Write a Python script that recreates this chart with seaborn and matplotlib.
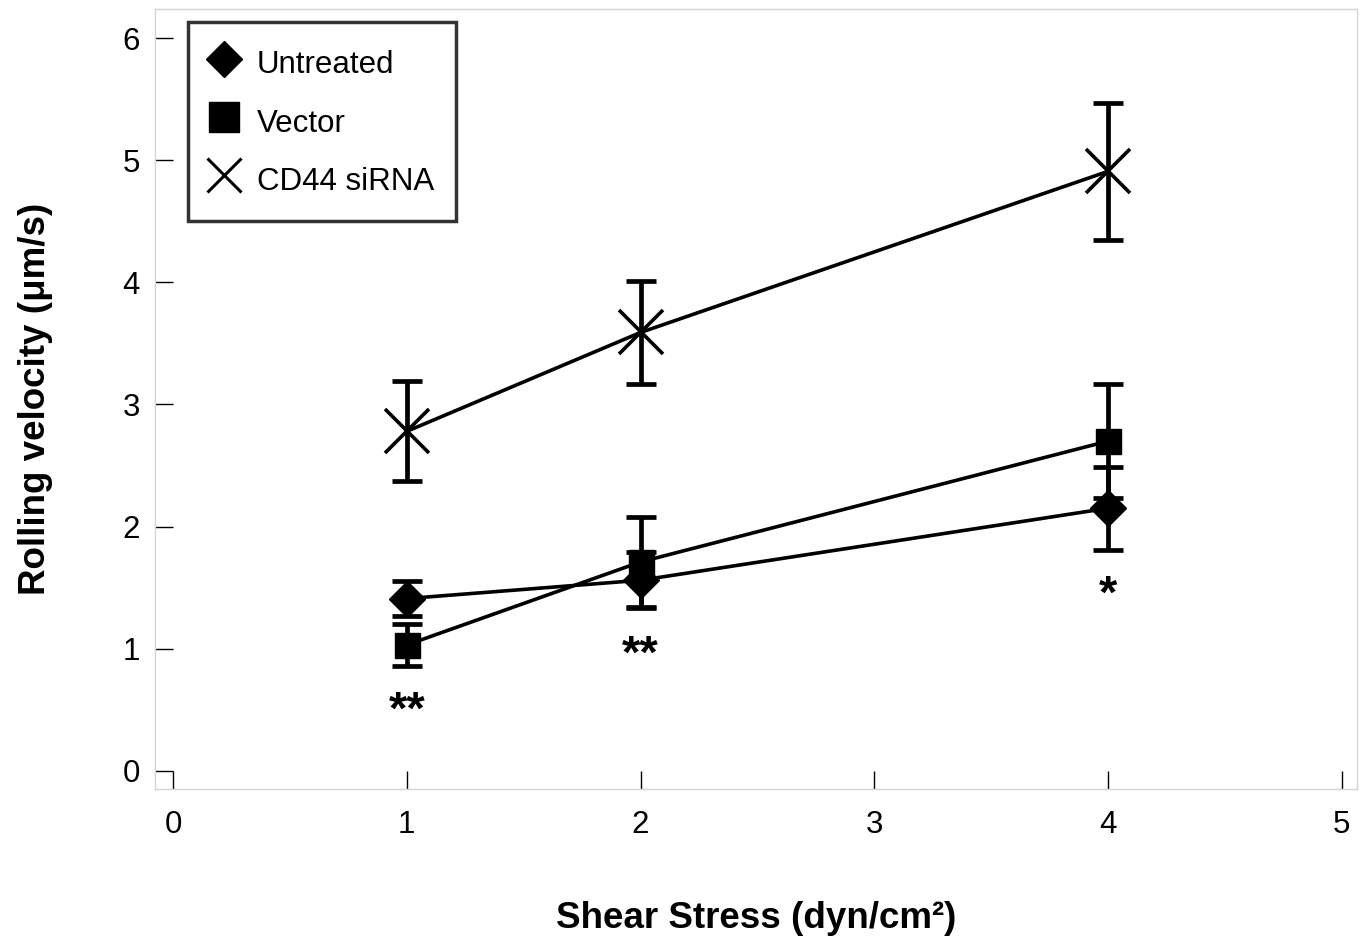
import numpy as np
import pandas as pd
import seaborn as sns
import matplotlib.pyplot as plt
from matplotlib.lines import Line2D

# shear stress (dyn/cm2)
shear = [1, 2, 4]

# rolling velocity (um/s) and error bars
untreated = [1.41, 1.56, 2.15]
untreated_err = [0.14, 0.23, 0.34]
vector = [1.03, 1.71, 2.70]
vector_err = [0.17, 0.37, 0.47]
cd44 = [2.78, 3.59, 4.91]
cd44_err = [0.41, 0.42, 0.56]

# significance marks
star_x = [1, 2, 4]
star_y = [0.48, 0.94, 1.43]
star_txt = ['**', '**', '*']

groups = ['Untreated', 'Vector', 'CD44 siRNA']

sns.set_style("white")
plt.rcParams['font.family'] = ['Liberation Sans', 'DejaVu Sans']
plt.rcParams['text.color'] = 'black'
plt.rcParams['axes.labelcolor'] = 'black'
plt.rcParams['xtick.color'] = 'black'
plt.rcParams['ytick.color'] = 'black'

fig = plt.figure(figsize=(13.62, 9.46), dpi=100)
ax = fig.add_axes([155/1362, 1-789/946, (1357-155)/1362, (789-9)/946])

series = {
    'Untreated': (untreated, untreated_err, 'D', 18, 1),
    'Vector': (vector, vector_err, 's', 18, 1),
    'CD44 siRNA': (cd44, cd44_err, 'x', 32, 2.6),
}

for name in groups:
    vals, err, mk, ms, mew = series[name]
    df = pd.DataFrame({'shear': shear, 'vel': vals})
    sns.lineplot(data=df, x='shear', y='vel', ax=ax, color='black',
                 linewidth=2.6, marker=mk, markersize=ms,
                 markeredgewidth=mew, markeredgecolor='black',
                 markerfacecolor='black', zorder=3)
    ax.errorbar(shear, vals, yerr=err, fmt='none', ecolor='black',
                elinewidth=3.4, capsize=11, capthick=3.4, zorder=4)

for xx, yy, t in zip(star_x, star_y, star_txt):
    ax.text(xx, yy, t, ha='center', va='center', fontsize=34,
            fontweight='bold')

ax.set_xlim(-0.077, 5.065)
ax.set_ylim(-0.15, 6.24)
ax.set_xticks([0, 1, 2, 3, 4, 5])
ax.set_yticks([0, 1, 2, 3, 4, 5, 6])
ax.tick_params(axis='both', direction='in', length=13, width=1,
               color='black', labelcolor='black', labelsize=22.5,
               left=True, bottom=True)
ax.tick_params(axis='y', pad=11)
ax.tick_params(axis='x', pad=15)
for sp in ax.spines.values():
    sp.set_color('#d4d4d4')
    sp.set_linewidth(1)

ax.set_xlabel('Shear Stress (dyn/cm\u00b2)', fontsize=26.5,
              fontweight='bold', labelpad=44)
ax.set_ylabel('Rolling velocity (\u03bcm/s)', fontsize=26.5,
              fontweight='bold', labelpad=50)

handles = [
    Line2D([], [], linestyle='none', marker='D', markersize=18,
           color='black', markeredgewidth=1),
    Line2D([], [], linestyle='none', marker='s', markersize=22,
           color='black', markeredgewidth=1),
    Line2D([], [], linestyle='none', marker='x', markersize=24,
           color='black', markeredgewidth=2.2),
]
leg = ax.legend(handles, groups, loc='upper left',
                bbox_to_anchor=(188/1362, 1-22/946),
                bbox_transform=fig.transFigure, borderaxespad=0,
                fontsize=22.5, frameon=True, fancybox=False,
                handlelength=0.9, handleheight=1.5, handletextpad=0.6,
                labelspacing=0.65, borderpad=0.7)
leg.get_frame().set_edgecolor('black')
leg.get_frame().set_linewidth(2.5)

fig.savefig('out.png', dpi=100)
